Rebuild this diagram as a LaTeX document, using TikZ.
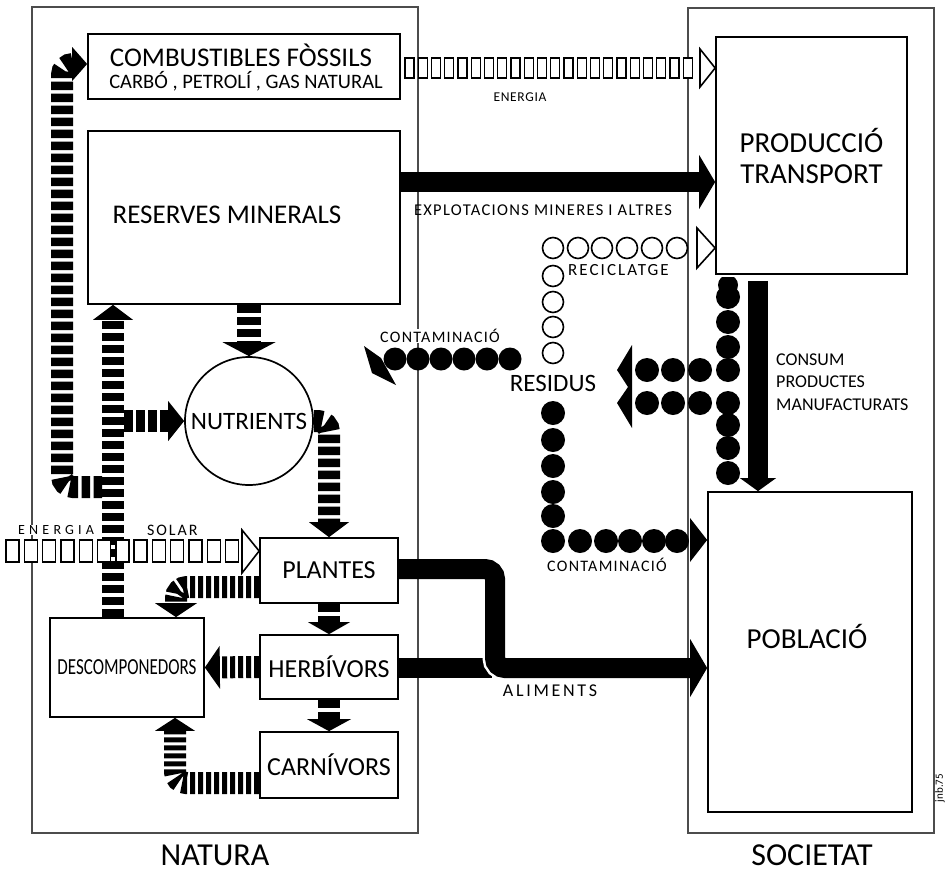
\documentclass[tikz,border=0pt]{standalone}
\usepackage{graphicx}
\usepackage{fontspec}
\setmainfont{Carlito}
\usetikzlibrary{arrows.meta,positioning,calc}
\newcommand{\fs}[1]{\fontsize{#1}{#1}\selectfont}
\newcommand{\spaced}[1]{\addfontfeature{LetterSpace=#1}}

\begin{document}
\begin{tikzpicture}[x=1pt,y=-1pt,
  outer/.style={draw=black!70,line width=1.1pt,inner sep=0pt},
  box/.style={draw,line width=1.7pt,inner sep=0pt,align=center},
  lbl/.style={inner sep=0pt},
  bar/.style={line width=20pt,-{Triangle[width=54pt,length=16pt,line width=0pt]}},
  band/.style={line width=22pt,dash pattern=on 8.5pt off 3.5pt,rounded corners=11pt,
               -{Triangle[width=40pt,length=15pt,line width=0pt]}},
  hband/.style={band,dash pattern=on 5pt off 3pt},
  pill/.style={draw,line width=1.4pt,fill=white},
  opentip/.style={draw,line width=1.6pt,fill=white,line join=miter}]
  \useasboundingbox (0,0) rectangle (948,873);
  % ---------- the two frames ----------
  \node[outer,minimum width=386pt,minimum height=826pt] (natura) at (225,420) {};
  \node[outer,minimum width=246pt,minimum height=825pt] (societat) at (811,420.5) {};
  \node[lbl] (natura-text) at (215,855) {\fs{32}NATURA};
  \node[lbl] (societat-text) at (812,855) {\fs{32}SOCIETAT};
  \node[lbl,rotate=90] (signature) at (940,788) {\fs{11}jnb.75};
  % ---------- boxes ----------
  \node[box,minimum width=312pt,minimum height=65pt] (fossils) at (244,66.5) {};
  \node[lbl] (fossils-title) at (241,55) {\fs{27}COMBUSTIBLES FÒSSILS};
  \node[lbl] (fossils-sub) at (246,81.5) {\fs{20.5}CARBÓ , PETROLÍ , GAS NATURAL};
  \node[box,minimum width=312pt,minimum height=173pt] (reserves) at (244,217.5) {};
  \node[lbl] (reserves-text) at (227,215) {\fs{27}RESERVES MINERALS};
  \node[box,minimum width=191pt,minimum height=237pt,font=\fontsize{29}{31}\selectfont]
    (produccio) at (811.5,155.5) {PRODUCCIÓ\\TRANSPORT};
  \node[box,minimum width=204pt,minimum height=320pt] (poblacio) at (810,652) {};
  \node[lbl] (poblacio-text) at (807,636) {\fs{29}POBLACIÓ};
  \node[box,circle,minimum size=128pt,font=\fs{25}] (nutrients) at (249,421) {NUTRIENTS};
  \node[box,minimum width=138pt,minimum height=65pt,font=\fs{26}] (plantes) at (329,570.5) {PLANTES};
  \node[box,minimum width=138pt,minimum height=64pt,font=\fs{26}] (herbivors) at (329,667) {HERBÍVORS};
  \node[box,minimum width=138pt,minimum height=66pt,font=\fs{26}] (carnivors) at (329,765) {CARNÍVORS};
  \node[box,minimum width=154pt,minimum height=99pt] (descomp) at (127,667.5)
    {\fs{23}\scalebox{0.74}[1]{DESCOMPONEDORS}};
  % ---------- flow labels ----------
  \node[lbl] (energia-text) at (520,97) {\fs{13.5}\spaced{5}ENERGIA};
  \node[lbl] (explot-text) at (543,210) {\fs{16.5}\spaced{8}EXPLOTACIONS MINERES I ALTRES};
  \node[lbl,anchor=west] (recicl-text) at (568,270) {\fs{17}\spaced{12}RECICLATGE};
  \node[lbl,fill=white] (contam-up-text) at (440,336) {\fs{16}\spaced{8}CONTAMINACIÓ};
  \node[lbl] (residus-text) at (553,383) {\fs{25}RESIDUS};
  \node[lbl,anchor=west,align=left,font=\fontsize{18}{22.5}\selectfont]
    (consum-text) at (776,382) {CONSUM\\PRODUCTES\\MANUFACTURATS};
  \node[lbl] (contam-down-text) at (607,565) {\fs{16}\spaced{8}CONTAMINACIÓ};
  \node[lbl] (aliments-text) at (550,691) {\fs{18}\spaced{15}ALIMENTS};
  \node[lbl,fill=white,anchor=west] (solar1-text) at (18,530) {\fs{14}\spaced{30}ENERGIA};
  \node[lbl,anchor=west] (solar2-text) at (147,530) {\fs{16}\spaced{12}SOLAR};
  % ---------- black bars ----------
  \draw[bar] (reserves.east |- 0,182) -- (produccio.west |- 0,182);
  \draw[line width=20pt] (herbivors.east |- 0,668) -- (492,668);
  \draw[white,line width=25pt,rounded corners=10pt] (470,569) -- (495,569) -- (495,668) -- (600,668);
  \draw[bar,rounded corners=10pt,-{Triangle[width=58pt,length=17pt,line width=0pt]}]
    (plantes.east |- 0,569) -- (495,569) -- (495,668) -- (poblacio.west |- 0,668);
  \draw[bar,-{Triangle[width=36pt,length=13pt,line width=0pt]}]
    ($(produccio.south -| 758,0)+(0,6)$) -- (poblacio.north -| 758,0);
  % ---------- striped bands (nature cycle) ----------
  \draw[band] (descomp.north -| 113,0) -- (reserves.south -| 113,0);
  \draw[band,-{Triangle[width=40pt,length=16pt,line width=0pt]}] (124,421) -- (nutrients.west);
  \draw[band,-{Triangle[width=34pt,length=15pt,line width=0pt]}]
    (102,487) -- (62,487) -- (62,64) -- (fossils.west |- 0,64);
  \draw[band,line width=24pt,-{Triangle[width=53pt,length=14pt,line width=0pt]}]
    (reserves.south -| nutrients.north) -- (nutrients.north);
  \draw[band] (nutrients.east) -- (nutrients.east -| plantes.north) -- (plantes.north);
  \draw[band,-{Triangle[width=42pt,length=12pt,line width=0pt]}] (plantes.south) -- (herbivors.north);
  \draw[band,-{Triangle[width=44pt,length=12pt,line width=0pt]}] (herbivors.south) -- (carnivors.north);
  \draw[hband,-{Triangle[width=42pt,length=14pt,line width=0pt]}]
    (plantes.west |- 0,587) -- (176,587) -- (descomp.north -| 176,0);
  \draw[hband,-{Triangle[width=43pt,length=15pt,line width=0pt]}] (herbivors.west) -- (descomp.east);
  \draw[hband,-{Triangle[width=40pt,length=13pt,line width=0pt]}]
    (carnivors.west |- 0,783) -- (175,783) -- (descomp.south -| 175,0);
  % ---------- energy (open rectangles) ----------
  \foreach \i in {0,...,21}
    \draw[pill] ({405+13.25*\i},58) rectangle ++(9,20);
  \draw[opentip] (700,49) -- (produccio.west |- 0,68) -- (700,87) -- cycle;
  \foreach \i in {0,...,12}
    \draw[pill] ({6+18.3*\i},540) rectangle ++(13,22);
  \draw[opentip] (242,530) -- (plantes.west |- 0,551) -- (242,573) -- cycle;
  % ---------- recycling (open circles) ----------
  \foreach \y in {353,327,302,276,248}
    \draw[line width=1.6pt] (553,\y) circle[radius=10.5];
  \foreach \x in {578,602,627,652,677}
    \draw[line width=1.6pt] (\x,248) circle[radius=10.5];
  \draw[opentip] (697,228) -- (produccio.west |- 0,248) -- (697,268) -- cycle;
  % ---------- waste (black dots) ----------
  \foreach \x in {395,418,441,464,487,510}
    \fill (\x,359) circle[radius=11.5];
  \fill (364,346) -- (381,358) -- (396,385) -- (372,373) -- cycle;
  \foreach \y in {413,440,466,492,516,541}
    \fill (553,\y) circle[radius=12];
  \foreach \x in {580,606,630,654,677}
    \fill (\x,541) circle[radius=12];
  \fill (690,518) -- (poblacio.west |- 0,540) -- (690,562) -- cycle;
  \begin{scope}
    \clip (714,277) rectangle (742,300);
    \fill (728,285) circle[radius=10];
  \end{scope}
  \foreach \y in {297,322,347,370,403,425,448,473}
    \fill (728,\y) circle[radius=12];
  \foreach \x in {647,673,700}
    {\fill (\x,370) circle[radius=12]; \fill (\x,403) circle[radius=12];}
  \fill (632,345) -- (617,370) -- (628,387) -- (617,403) -- (632,428) -- cycle;
\end{tikzpicture}
\end{document}
